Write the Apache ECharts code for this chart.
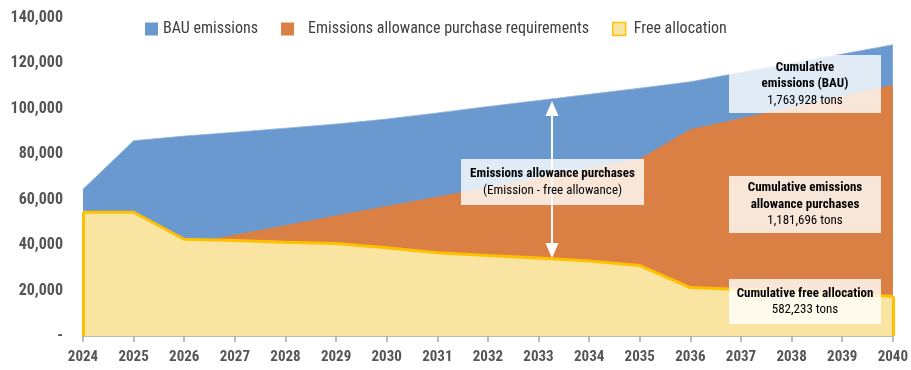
<!DOCTYPE html>
<html>
<head>
<meta charset="utf-8">
<script src="https://cdn.jsdelivr.net/npm/echarts@6/dist/echarts.min.js"></script>
<style>
  html, body { margin: 0; padding: 0; background: #ffffff; }
  #chart { width: 911px; height: 370px; }
</style>
</head>
<body>
<div id="chart"></div>
<script>
// Years on the horizontal axis
const years = ['2024', '2025', '2026', '2027', '2028', '2029', '2030', '2031', '2032',
               '2033', '2034', '2035', '2036', '2037', '2038', '2039', '2040'];

// Business-as-usual emissions (tons)
const bauEmissions = [64600, 86000, 88000, 89700, 91500, 93300, 95500, 98200, 101000,
                      103700, 106400, 109100, 111900, 116000, 120100, 124100, 128200];

// Emissions allowance purchase requirements (tons)
const purchaseRequirements = [10100, 31500, 40400, 44600, 48800, 53000, 57200, 61300, 65500,
                              69700, 73800, 78000, 91000, 95900, 100800, 105700, 110600];

// Free allocation (tons)
const freeAllocation = [54500, 54500, 42600, 42000, 41300, 40700, 38900, 36600, 35450,
                        34350, 33050, 31000, 21300, 20500, 19500, 18500, 17500];

// Value axis ticks
const yMin = 0, yMax = 140000, yStep = 20000;

// Series names shown in the legend
const seriesNames = ['BAU emissions', 'Emissions allowance purchase requirements', 'Free allocation'];

// Cumulative totals printed in the callouts
const totalBau = '1,763,928 tons';
const totalPurchases = '1,181,696 tons';
const totalFree = '582,233 tons';

const FONT = '"Liberation Sans Narrow", "Roboto Condensed", Roboto, sans-serif';
const BLUE = '#6A99D0';
const ORANGE = '#DB8044';
const YELLOW = '#F9E4A2';
const GOLD = '#FFC000';
const TEXT = '#555555';

const chart = echarts.init(document.getElementById('chart'), null, { renderer: 'canvas' });

function box(x, y, w, h, lines) {
  return [
    { type: 'rect', z: 100, silent: true,
      shape: { x: x, y: y, width: w, height: h },
      style: { fill: 'rgba(255,255,255,0.8)' } },
    { type: 'text', z: 101, silent: true,
      x: x + w / 2, y: y + h / 2,
      style: {
        text: lines.join('\n'),
        align: 'center', verticalAlign: 'middle',
        rich: {
          b: { fontFamily: FONT, fontSize: 13, fontWeight: 'bold', color: '#4f4f4f', lineHeight: 16.5, align: 'center' },
          n: { fontFamily: FONT, fontSize: 13, color: TEXT, lineHeight: 16.5, align: 'center' }
        }
      } }
  ];
}

const arrowX = 552;
const graphics = [
  { type: 'line', z: 90, silent: true,
    shape: { x1: arrowX, y1: 112, x2: arrowX, y2: 247 },
    style: { stroke: '#ffffff', lineWidth: 2 } },
  { type: 'polygon', z: 90, silent: true,
    shape: { points: [[arrowX, 101], [arrowX - 6.5, 116], [arrowX + 6.5, 116]] },
    style: { fill: '#ffffff' } },
  { type: 'polygon', z: 90, silent: true,
    shape: { points: [[arrowX, 258], [arrowX - 6.5, 243], [arrowX + 6.5, 243]] },
    style: { fill: '#ffffff' } }
]
  .concat(box(461, 159, 183, 46, ['{b|Emissions allowance purchases}', '{n|(Emission - free allowance)}']))
  .concat(box(729, 55, 152, 58, ['{b|Cumulative}', '{b|emissions (BAU)}', '{n|' + totalBau + '}']))
  .concat(box(729, 176, 152, 57, ['{b|Cumulative emissions}', '{b|allowance purchases}', '{n|' + totalPurchases + '}']))
  .concat(box(729, 279, 152, 45, ['{b|Cumulative free allocation}', '{n|' + totalFree + '}']));

const legendText = { fontFamily: FONT, fontSize: 16, color: '#404040' };

const option = {
  animation: false,
  backgroundColor: '#ffffff',
  textStyle: { fontFamily: FONT },
  grid: { left: 83, right: 15, top: 18, bottom: 34, containLabel: false },
  legend: {
    left: 140, top: 16,
    icon: 'rect',
    itemWidth: 13, itemHeight: 13, itemGap: 23,
    formatter: name => {
      if (name === seriesNames[1]) return '{p9|' + name + '}';
      if (name === seriesNames[2]) return '{p3|' + name + '}';
      return '{p0|' + name + '}';
    },
    textStyle: Object.assign({}, legendText, {
      rich: {
        p0: Object.assign({}, legendText),
        p9: Object.assign({ padding: [0, 0, 0, 9] }, legendText),
        p3: Object.assign({ padding: [0, 0, 0, 3] }, legendText)
      }
    }),
    data: [
      { name: seriesNames[0], itemStyle: { color: BLUE } },
      { name: seriesNames[1], itemStyle: { color: ORANGE } },
      { name: seriesNames[2], itemStyle: { color: YELLOW, borderColor: GOLD, borderWidth: 1.5 } }
    ]
  },
  xAxis: {
    type: 'category',
    data: years,
    boundaryGap: false,
    axisLine: { show: true, lineStyle: { color: '#A6A6A6', width: 1.5 } },
    axisTick: { show: true, length: 6, lineStyle: { color: '#A6A6A6', width: 1.5 } },
    axisLabel: { fontFamily: FONT, fontSize: 15, fontWeight: 'bold', color: '#555555', margin: 14 },
    splitLine: { show: false }
  },
  yAxis: {
    type: 'value',
    min: yMin, max: yMax, interval: yStep,
    axisLine: { show: false },
    axisTick: { show: false },
    splitLine: { show: false },
    axisLabel: {
      fontFamily: FONT, fontSize: 16, fontWeight: 'bold', color: '#555555', margin: 20,
      formatter: v => v === 0 ? '-' : v.toLocaleString('en-US')
    }
  },
  series: [
    {
      name: seriesNames[0], type: 'line', data: bauEmissions,
      color: BLUE, symbol: 'none', silent: true, z: 1,
      lineStyle: { width: 0.8, color: '#8fb1dc' },
      areaStyle: { color: BLUE, opacity: 1 }
    },
    {
      name: seriesNames[1], type: 'line', data: purchaseRequirements,
      color: ORANGE, symbol: 'none', silent: true, z: 2,
      lineStyle: { width: 0 },
      areaStyle: { color: ORANGE, opacity: 1 }
    },
    {
      name: seriesNames[2], type: 'line', data: freeAllocation,
      color: YELLOW, symbol: 'none', silent: true, z: 3,
      lineStyle: { width: 3, color: GOLD },
      areaStyle: { color: YELLOW, opacity: 1 },
      markLine: {
        silent: true, symbol: 'none', label: { show: false },
        lineStyle: { color: GOLD, width: 3, type: 'solid' },
        data: [
          [{ coord: [years[0], 0] }, { coord: [years[0], freeAllocation[0]] }],
          [{ coord: [years[years.length - 1], 0] }, { coord: [years[years.length - 1], freeAllocation[freeAllocation.length - 1]] }]
        ]
      }
    }
  ],
  graphic: graphics
};

chart.setOption(option);
</script>
</body>
</html>
